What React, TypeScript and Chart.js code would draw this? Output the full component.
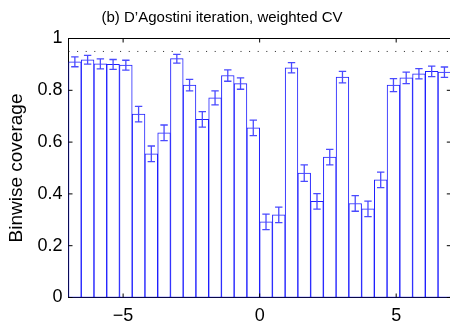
import { useEffect, useRef } from 'react';
import { Chart, registerables } from 'chart.js';

Chart.register(...registerables);

const titleText = '(b) D\u2019Agostini iteration, weighted CV';
const yLabel = 'Binwise coverage';

const binCenters = [
  -6.767, -6.3, -5.833, -5.367, -4.9, -4.433, -3.967, -3.5, -3.033, -2.567,
  -2.1, -1.633, -1.167, -0.7, -0.233, 0.233, 0.7, 1.167, 1.633, 2.1,
  2.567, 3.033, 3.5, 3.967, 4.433, 4.9, 5.367, 5.833, 6.3, 6.767,
];
const coverage = [
  0.910, 0.918, 0.902, 0.900, 0.897, 0.708, 0.555, 0.636, 0.922, 0.820,
  0.688, 0.771, 0.857, 0.826, 0.655, 0.292, 0.319, 0.887, 0.480, 0.371,
  0.542, 0.851, 0.363, 0.342, 0.454, 0.820, 0.848, 0.864, 0.873, 0.870,
];
const coverageErr = [
  0.019, 0.017, 0.019, 0.019, 0.019, 0.030, 0.030, 0.030, 0.017, 0.022,
  0.030, 0.027, 0.022, 0.022, 0.030, 0.030, 0.030, 0.020, 0.032, 0.030,
  0.030, 0.022, 0.030, 0.030, 0.030, 0.025, 0.022, 0.020, 0.020, 0.020,
];
const xTickValues = [-5, 0, 5];
const yTickValues = [0, 0.2, 0.4, 0.6, 0.8, 1];
const xRange = [-7, 7];
const nominalLevel = 0.95;

const FONT = '"Liberation Sans", Arial, Helvetica, sans-serif';

const fmtX = (v: number) => (v < 0 ? '\u2212' + Math.abs(v) : String(v));

export default function App() {
  const ref = useRef<HTMLCanvasElement>(null);

  useEffect(() => {
    const canvas = ref.current;
    if (!canvas) return;
    Chart.defaults.font.family = FONT;

    const decorPlugin = {
      id: 'decor',
      beforeDatasetsDraw(chart: any) {
        const { ctx, chartArea: a } = chart;
        ctx.save();
        ctx.strokeStyle = '#000';
        ctx.lineWidth = 1;
        ctx.strokeRect(a.left, a.top, a.right - a.left, a.bottom - a.top);
        ctx.restore();
      },
      afterDatasetsDraw(chart: any) {
        const { ctx, chartArea: a, scales } = chart;
        const xs = scales.x;
        const ys = scales.y;
        ctx.save();
        ctx.beginPath();
        ctx.rect(a.left, a.top, a.right - a.left, a.bottom - a.top);
        ctx.clip();
        ctx.strokeStyle = '#4a4aff';
        ctx.lineWidth = 1.3;
        ctx.setLineDash([]);
        binCenters.forEach((c, i) => {
          const px = xs.getPixelForValue(c);
          const y1 = ys.getPixelForValue(coverage[i] - coverageErr[i]);
          const y2 = ys.getPixelForValue(coverage[i] + coverageErr[i]);
          ctx.beginPath();
          ctx.moveTo(px, y1);
          ctx.lineTo(px, y2);
          ctx.moveTo(px - 3.7, y1);
          ctx.lineTo(px + 3.7, y1);
          ctx.moveTo(px - 3.7, y2);
          ctx.lineTo(px + 3.7, y2);
          ctx.stroke();
        });
        ctx.restore();

        ctx.save();
        ctx.strokeStyle = '#000';
        ctx.lineWidth = 1;
        ctx.setLineDash([]);
        ctx.beginPath();
        xTickValues.forEach((v) => {
          const p = xs.getPixelForValue(v);
          ctx.moveTo(p, a.bottom);
          ctx.lineTo(p, a.bottom - 4);
          ctx.moveTo(p, a.top);
          ctx.lineTo(p, a.top + 4);
        });
        yTickValues.forEach((v) => {
          const p = ys.getPixelForValue(v);
          ctx.moveTo(a.left, p);
          ctx.lineTo(a.left + 4, p);
          ctx.moveTo(a.right, p);
          ctx.lineTo(a.right - 4, p);
        });
        ctx.stroke();
        ctx.fillStyle = '#000';
        ctx.font = '15px ' + FONT;
        ctx.textAlign = 'center';
        ctx.textBaseline = 'alphabetic';
        ctx.fillText(titleText, 222, 22);
        ctx.restore();
      },
    };

    const chart = new Chart(canvas, {
      type: 'bar',
      data: {
        datasets: [
          {
            type: 'line',
            data: [
              { x: xRange[0], y: nominalLevel },
              { x: xRange[1], y: nominalLevel },
            ],
            borderColor: '#222',
            borderWidth: 1,
            borderDash: [1, 7.6],
            pointRadius: 0,
            fill: false,
            order: 1,
          } as any,
          {
            type: 'bar',
            data: binCenters.map((x, i) => ({ x, y: coverage[i] })),
            backgroundColor: '#ffffff',
            borderColor: '#1f1fff',
            borderWidth: 1,
            borderSkipped: false,
            barPercentage: 1,
            categoryPercentage: 1,
            order: 2,
          } as any,
        ],
      },
      options: {
        responsive: false,
        animation: false,
        layout: { padding: { top: 38.5, right: 19.2, left: 0, bottom: 0 } },
        plugins: {
          legend: { display: false },
          tooltip: { enabled: false },
          title: { display: false },
        },
        scales: {
          x: {
            type: 'linear',
            min: xRange[0],
            max: xRange[1],
            offset: false,
            grid: { display: false, drawTicks: false },
            border: { display: false },
            afterBuildTicks: (s: any) => {
              s.ticks = xTickValues.map((v) => ({ value: v }));
            },
            afterFit: (s: any) => {
              s.height = 25.5;
            },
            ticks: {
              padding: 8,
              color: '#000',
              font: { size: 18 },
              maxRotation: 0,
              autoSkip: false,
              callback: (v: any) => fmtX(Number(v)),
            },
          },
          y: {
            type: 'linear',
            min: 0,
            max: 1,
            grid: { display: false, drawTicks: false },
            border: { display: false },
            afterBuildTicks: (s: any) => {
              s.ticks = yTickValues.map((v) => ({ value: v }));
            },
            afterFit: (s: any) => {
              s.width = 68.5;
            },
            ticks: {
              padding: 6,
              color: '#000',
              font: { size: 18 },
              callback: (v: any) => String(v),
            },
            title: {
              display: true,
              text: yLabel,
              color: '#000',
              font: { size: 19 },
              padding: { top: 5.6, bottom: 0 },
            },
          },
        },
      } as any,
      plugins: [decorPlugin],
    });

    return () => chart.destroy();
  }, []);

  return (
    <div
      style={{
        position: 'fixed',
        left: 0,
        top: 0,
        width: 450,
        height: 323,
        overflow: 'hidden',
        background: '#fff',
      }}
    >
      <canvas ref={ref} width={470} height={323} style={{ display: 'block' }} />
    </div>
  );
}
